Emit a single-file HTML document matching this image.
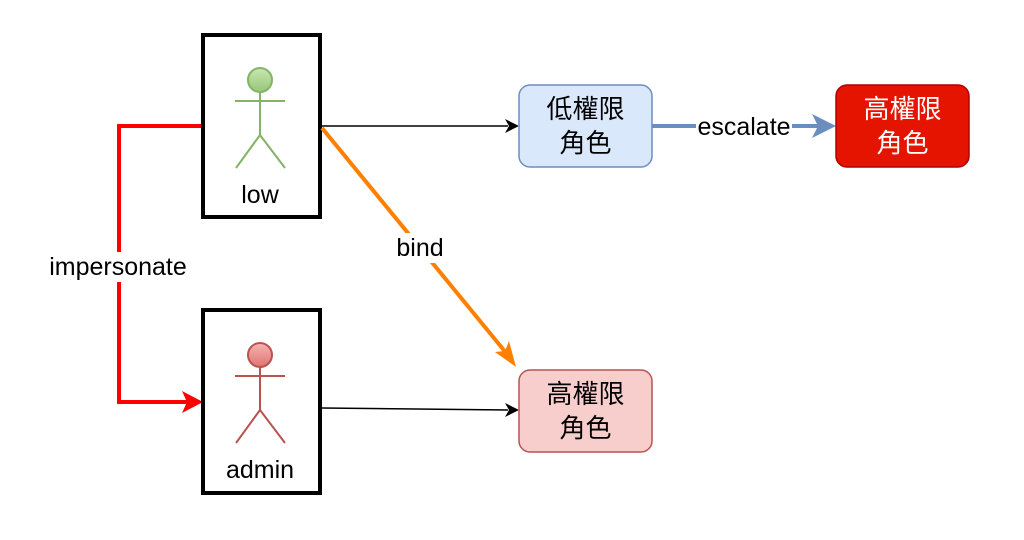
<!DOCTYPE html>
<html><head><meta charset="utf-8"><style>
html,body{margin:0;padding:0;background:#fff;}
svg{display:block;}
text{font-family:"Liberation Sans","Noto Sans CJK TC",sans-serif;}
</style></head><body>
<svg width="1024" height="540" viewBox="0 0 1024 540" xmlns="http://www.w3.org/2000/svg">
<defs>
<linearGradient id="gg" x1="0" y1="0" x2="0" y2="1"><stop offset="0" stop-color="#c8e6b0"/><stop offset="1" stop-color="#97c77a"/></linearGradient>
<linearGradient id="rg" x1="0" y1="0" x2="0" y2="1"><stop offset="0" stop-color="#f5b5b3"/><stop offset="1" stop-color="#e07370"/></linearGradient>
</defs>
<rect width="1024" height="540" fill="#fff"/>
<polyline points="203,126 119,126 119,402 188,402" fill="none" stroke="#ff0000" stroke-width="4"/>
<polygon points="203,402 182,391 187,402 182,413" fill="#ff0000"/>
<rect x="44" y="252" width="150" height="30" fill="#fff"/>
<text x="118" y="275" font-size="25" text-anchor="middle" fill="#000">impersonate</text>
<rect x="203" y="35" width="117" height="182" fill="none" stroke="#000" stroke-width="4"/>
<rect x="203" y="310" width="117" height="183" fill="none" stroke="#000" stroke-width="4"/>
<g stroke="#82b366" stroke-width="2" fill="none">
<circle cx="260" cy="80" r="12" fill="url(#gg)"/>
<line x1="260" y1="92" x2="260" y2="135"/>
<line x1="235" y1="101" x2="285" y2="101"/>
<line x1="260" y1="135" x2="236" y2="168"/>
<line x1="260" y1="135" x2="285" y2="168"/>
</g>
<text x="260" y="203" font-size="25" text-anchor="middle">low</text>
<g stroke="#b85450" stroke-width="2" fill="none">
<circle cx="260" cy="355" r="12" fill="url(#rg)"/>
<line x1="260" y1="367" x2="260" y2="410"/>
<line x1="235" y1="376" x2="285" y2="376"/>
<line x1="260" y1="410" x2="236" y2="443"/>
<line x1="260" y1="410" x2="285" y2="443"/>
</g>
<text x="260" y="478" font-size="25" text-anchor="middle">admin</text>
<line x1="322" y1="126" x2="508" y2="126" stroke="#000" stroke-width="1.5"/>
<polygon points="519,126 505,119 509,126 505,133" fill="#000"/>
<line x1="322" y1="408" x2="508" y2="410" stroke="#000" stroke-width="1.5"/>
<polygon points="519,410 505,403 509,410 505,417" fill="#000"/>
<line x1="322" y1="128" x2="507" y2="354" stroke="#ff8000" stroke-width="4"/>
<polygon points="516,367 495,352 505,351 509,341" fill="#ff8000"/>
<rect x="392" y="233" width="58" height="30" fill="#fff"/>
<text x="420" y="256" font-size="25" text-anchor="middle">bind</text>
<line x1="652" y1="126" x2="822" y2="126" stroke="#6c8ebf" stroke-width="4"/>
<polygon points="836,126 812,114 818,126 812,138" fill="#6c8ebf"/>
<rect x="696" y="112" width="96" height="30" fill="#fff"/>
<text x="744" y="135" font-size="25" text-anchor="middle">escalate</text>
<rect x="519" y="85" width="133" height="82" rx="11" fill="#dae8fc" stroke="#6c8ebf" stroke-width="1.5"/>
<text x="585.5" y="118" font-size="26" text-anchor="middle">低權限</text>
<text x="585.5" y="152" font-size="26" text-anchor="middle">角色</text>
<rect x="836" y="85" width="133" height="82" rx="11" fill="#e51400" stroke="#b20000" stroke-width="1.5"/>
<text x="902.5" y="118" font-size="26" text-anchor="middle" fill="#fff">高權限</text>
<text x="902.5" y="152" font-size="26" text-anchor="middle" fill="#fff">角色</text>
<rect x="519" y="370" width="133" height="82" rx="11" fill="#f8cecc" stroke="#b85450" stroke-width="1.5"/>
<text x="585.5" y="403" font-size="26" text-anchor="middle">高權限</text>
<text x="585.5" y="437" font-size="26" text-anchor="middle">角色</text>
</svg>
</body></html>
